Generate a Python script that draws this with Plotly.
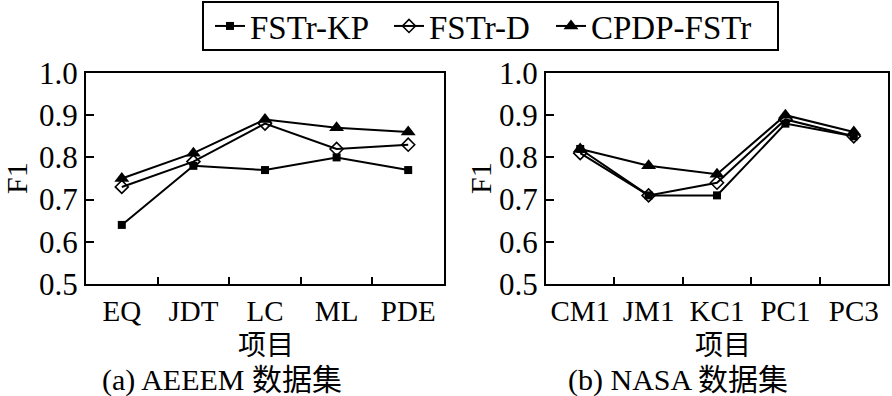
import plotly.graph_objects as go

W, H = 892, 396

cats_a = ["EQ", "JDT", "LC", "ML", "PDE"]
kp_a = [0.64, 0.78, 0.77, 0.80, 0.77]
d_a = [0.73, 0.79, 0.88, 0.82, 0.83]
cp_a = [0.75, 0.81, 0.89, 0.87, 0.86]

cats_b = ["CM1", "JM1", "KC1", "PC1", "PC3"]
kp_b = [0.82, 0.71, 0.71, 0.88, 0.85]
d_b = [0.81, 0.71, 0.74, 0.89, 0.85]
cp_b = [0.82, 0.78, 0.76, 0.90, 0.86]

series_names = ["FSTr-KP", "FSTr-D", "CPDP-FSTr"]
y_title = "F1"
x_title = "项目"
captions = ["(a) AEEEM 数据集", "(b) NASA 数据集"]

FONT = "'Liberation Serif', 'Times New Roman', 'Noto Sans CJK SC', serif"

styles = [
    dict(symbol="square", size=8, color="black", line=dict(width=0, color="black")),
    dict(symbol="diamond-open", size=10, color="black", line=dict(width=1.6, color="black")),
    dict(symbol="triangle-up", size=13, color="black", line=dict(width=0, color="black")),
]
legend_ids = ["legend", "legend2", "legend3"]
legend_x_px = [210, 389, 551]

fig = go.Figure()
for panel, (cats, vals) in enumerate([(cats_a, [kp_a, d_a, cp_a]), (cats_b, [kp_b, d_b, cp_b])]):
    xa = "x" if panel == 0 else "x2"
    ya = "y" if panel == 0 else "y2"
    for i, (name, v) in enumerate(zip(series_names, vals)):
        fig.add_trace(go.Scatter(
            x=cats, y=v, name=name, mode="lines+markers",
            line=dict(color="black", width=2),
            marker=styles[i], showlegend=(panel == 0),
            legend=legend_ids[i],
            xaxis=xa, yaxis=ya,
        ))

def px_x(p):
    return p / W

def px_y(p):
    return 1 - p / H

common_x = dict(
    type="category", range=[-0.5, 4.5], tickson="boundaries",
    ticks="inside", ticklen=7, tickwidth=1.5, tickcolor="black",
    showline=True, linecolor="black", linewidth=2, mirror=True,
    showgrid=False, zeroline=False, tickangle=0, automargin=False,
    tickfont=dict(family=FONT, size=29, color="black"),
)
common_y = dict(
    range=[0.5, 1.0], dtick=0.1, tick0=0.5, tickformat=".1f",
    ticks="inside", ticklen=8, tickwidth=1.5, tickcolor="black",
    showline=True, linecolor="black", linewidth=2, mirror=True,
    showgrid=False, zeroline=False, automargin=False,
    tickfont=dict(family=FONT, size=31, color="black"),
)

ann = []
for cx, cap in zip([222, 678], captions):
    ann.append(dict(text=cap, x=px_x(cx), y=px_y(380), xref="paper", yref="paper",
                    showarrow=False, font=dict(family=FONT, size=30, color="black"),
                    xanchor="center", yanchor="middle"))
for cx in [266, 723]:
    ann.append(dict(text=x_title, x=px_x(cx), y=px_y(345), xref="paper", yref="paper",
                    showarrow=False, font=dict(family=FONT, size=28, color="black"),
                    xanchor="center", yanchor="middle"))
for cx in [16, 480]:
    ann.append(dict(text=y_title, x=px_x(cx), y=px_y(178), xref="paper", yref="paper",
                    showarrow=False, textangle=-90, font=dict(family=FONT, size=30, color="black"),
                    xanchor="center", yanchor="middle"))

legends = {}
for lid, lx in zip(legend_ids, legend_x_px):
    legends[lid] = dict(
        orientation="h", x=px_x(lx), y=px_y(26), xanchor="left", yanchor="middle",
        borderwidth=0, bgcolor="rgba(0,0,0,0)",
        font=dict(family=FONT, size=33, color="black"),
    )

fig.update_layout(
    width=W, height=H,
    margin=dict(l=0, r=0, t=0, b=0, autoexpand=False),
    paper_bgcolor="white", plot_bgcolor="white",
    font=dict(family=FONT, color="black"),
    xaxis=dict(common_x, domain=[px_x(86), px_x(444)], anchor="y"),
    yaxis=dict(common_y, domain=[px_y(284), px_y(73)], anchor="x"),
    xaxis2=dict(common_x, domain=[px_x(546), px_x(888)], anchor="y2"),
    yaxis2=dict(common_y, domain=[px_y(284), px_y(73)], anchor="x2"),
    shapes=[dict(type="rect", xref="paper", yref="paper",
                 x0=px_x(203), x1=px_x(778), y0=px_y(50), y1=px_y(2),
                 line=dict(color="black", width=2), fillcolor="rgba(0,0,0,0)", layer="below")],
    annotations=ann,
    **legends,
)

fig.write_html("out.html", config={"displayModeBar": False},
               post_script="document.body.style.margin='0';document.body.style.overflow='hidden';")
